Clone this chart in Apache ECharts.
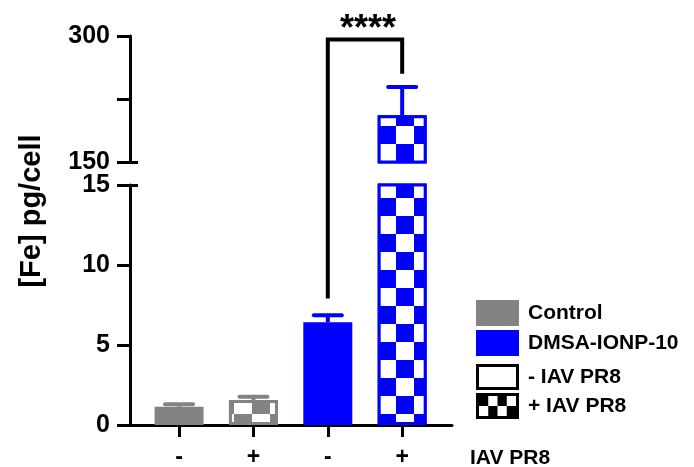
<!DOCTYPE html>
<html><head><meta charset="utf-8">
<script src="https://cdn.jsdelivr.net/npm/echarts@6/dist/echarts.min.js"></script>
<style>html,body{margin:0;padding:0;background:#fff}#c{width:694px;height:467px}</style>
</head><body><div id="c"></div>
<script>
// ---- data ----
const xLabels = ['-', '+', '-', '+'];
const groupOf = ['Control', 'Control', 'DMSA-IONP-10', 'DMSA-IONP-10'];
const infected = [false, true, false, true];
const meanValues = [1.14, 1.56, 6.42, 205.6];
const errorValues = [0.15, 0.21, 0.44, 33.7];
const lowerTicks = [0, 5, 10, 15];
const upperTickLabels = [150, 300];
const legendLabels = ['Control', 'DMSA-IONP-10', '- IAV PR8', '+ IAV PR8'];
const xAxisTitle = 'IAV PR8';
const yAxisTitle = '[Fe] pg/cell';
const sigLabel = '****';
const sigPair = [2, 3];
const sigHeight = 295.7;   // bracket top (upper segment scale)
const sigRightEnd = 255;   // right leg end (upper segment scale)
const sigLeftEnd = 7.9;    // left leg end (lower segment scale)

// ---- styles ----
const FONT = '"Liberation Sans", Arial, Helvetica, sans-serif';
const groupColor = { 'Control': '#838383', 'DMSA-IONP-10': '#0000ff' };
const lowerRange = [0, 15], upperRange = [150, 300];
const xRange = [-0.66, 3.67];
const CELL = 18;
const checker = (c) => ({
  symbol: 'rect', symbolSize: 1, color: c,
  dashArrayX: [[CELL, CELL], [0, CELL, CELL, 0]], dashArrayY: [CELL, 0], rotation: 0
});

const chart = echarts.init(document.getElementById('c'), null, { renderer: 'canvas' });

function barItem(i) {
  const col = groupColor[groupOf[i]];
  return {
    value: [i, meanValues[i]],
    itemStyle: {
      color: col, borderColor: col, borderWidth: 3,
      decal: infected[i] ? checker('#ffffff') : null
    }
  };
}
const idx = meanValues.map((_, i) => i);
const lowerBars = idx.map(barItem);
const upperBars = idx.map(i => meanValues[i] > upperRange[0] ? barItem(i) : { value: [i, '-'] });
const lowerErr = idx.filter(i => meanValues[i] + errorValues[i] <= lowerRange[1])
  .map(i => [i, meanValues[i], meanValues[i] + errorValues[i], i]);
const upperErr = idx.filter(i => meanValues[i] > upperRange[0])
  .map(i => [i, meanValues[i], meanValues[i] + errorValues[i], i]);

function renderErr(params, api) {
  const x = api.value(0);
  const p0 = api.coord([x, api.value(1)]);
  const p1 = api.coord([x, api.value(2)]);
  const col = groupColor[groupOf[api.value(3)]];
  const hw = 14;
  return {
    type: 'group',
    children: [
      { type: 'line', shape: { x1: p0[0], y1: p0[1], x2: p1[0], y2: p1[1] }, style: { stroke: col, lineWidth: 4 } },
      { type: 'line', shape: { x1: p1[0] - hw, y1: p1[1], x2: p1[0] + hw, y2: p1[1] }, style: { stroke: col, lineWidth: 4, lineCap: 'round' } }
    ]
  };
}

const axisLine = { show: true, onZero: false, lineStyle: { color: '#000', width: 3 } };
const yLabel = { color: '#000', fontSize: 25, fontWeight: 'bold', fontFamily: FONT, margin: 20 };

chart.setOption({
  animation: false,
  backgroundColor: '#fff',
  grid: [
    { left: 130, right: 242, top: 185, height: 240, outerBoundsMode: 'none' },
    { left: 130, right: 242, top: 36, height: 126, outerBoundsMode: 'none' }
  ],
  xAxis: [
    {
      type: 'value', gridIndex: 0, min: xRange[0], max: xRange[1],
      axisLine: axisLine, splitLine: { show: false },
      axisTick: { show: true, customValues: idx, length: 12, lineStyle: { color: '#000', width: 3 } },
      axisLabel: {
        customValues: idx, formatter: v => xLabels[Math.round(v)],
        color: '#000', fontSize: 23, fontWeight: 'bold', fontFamily: FONT, margin: 21
      }
    },
    { type: 'value', gridIndex: 1, min: xRange[0], max: xRange[1], show: false, splitLine: { show: false } }
  ],
  yAxis: [
    {
      type: 'value', gridIndex: 0, position: 'left', min: lowerRange[0], max: lowerRange[1], interval: 5,
      axisLine: axisLine, splitLine: { show: false },
      axisTick: { show: true, length: 13, lineStyle: { color: '#000', width: 3 } },
      axisLabel: Object.assign({ customValues: lowerTicks }, yLabel)
    },
    {
      type: 'value', gridIndex: 1, position: 'left', min: upperRange[0], max: upperRange[1], interval: 75,
      axisLine: axisLine, splitLine: { show: false },
      axisTick: { show: true, length: 13, lineStyle: { color: '#000', width: 3 } },
      axisLabel: Object.assign({ customValues: upperTickLabels }, yLabel)
    },
    {
      type: 'value', gridIndex: 0, position: 'left', offset: 0, min: lowerRange[0], max: lowerRange[1],
      axisLine: { show: false, onZero: false }, splitLine: { show: false }, axisLabel: { show: false },
      axisTick: { show: true, inside: true, customValues: [lowerRange[1]], length: 8, lineStyle: { color: '#000', width: 3 } }
    },
    {
      type: 'value', gridIndex: 1, position: 'left', offset: 0, min: upperRange[0], max: upperRange[1],
      axisLine: { show: false, onZero: false }, splitLine: { show: false }, axisLabel: { show: false },
      axisTick: { show: true, inside: true, customValues: [upperRange[0]], length: 8, lineStyle: { color: '#000', width: 3 } }
    }
  ],
  series: [
    { type: 'bar', xAxisIndex: 0, yAxisIndex: 0, barWidth: 49, data: lowerBars, clip: true, z: 2 },
    { type: 'bar', xAxisIndex: 1, yAxisIndex: 1, barWidth: 49, data: upperBars, clip: true, z: 2 },
    { type: 'custom', xAxisIndex: 0, yAxisIndex: 0, renderItem: renderErr, data: lowerErr, encode: { x: 0, y: [1, 2] }, z: 3 },
    { type: 'custom', xAxisIndex: 1, yAxisIndex: 1, renderItem: renderErr, data: upperErr, encode: { x: 0, y: [1, 2] }, z: 3 }
  ]
});

// ---- annotations & legend (positions derived from the chart's scales) ----
const pTL = chart.convertToPixel({ xAxisIndex: 1, yAxisIndex: 1 }, [sigPair[0], sigHeight]);
const pTR = chart.convertToPixel({ xAxisIndex: 1, yAxisIndex: 1 }, [sigPair[1], sigHeight]);
const pRE = chart.convertToPixel({ xAxisIndex: 1, yAxisIndex: 1 }, [sigPair[1], sigRightEnd]);
const pLE = chart.convertToPixel({ xAxisIndex: 0, yAxisIndex: 0 }, [sigPair[0], sigLeftEnd]);

const graphics = [
  { type: 'polyline', z: 10, shape: { points: [pLE, [pLE[0], pTL[1]], pTR, pRE] },
    style: { stroke: '#000', lineWidth: 4, fill: null, lineJoin: 'miter' } },
  { type: 'text', z: 10, x: (pTL[0] + pTR[0]) / 2 + 3, y: pTL[1] - 10,
    style: { text: sigLabel, fill: '#000', font: 'bold 36px ' + FONT, align: 'center', verticalAlign: 'middle' } },
  { type: 'text', x: 32, y: 211, rotation: Math.PI / 2,
    style: { text: yAxisTitle, fill: '#000', font: 'bold 29px ' + FONT, align: 'center', verticalAlign: 'middle' } },
  { type: 'text', x: 470, y: 458,
    style: { text: xAxisTitle, fill: '#000', font: 'bold 21px ' + FONT, align: 'left', verticalAlign: 'middle' } }
];

// legend
const legTop = [300, 330, 364, 393];
const legX = 476, legW = 43, legH = 26;
legendLabels.forEach((name, k) => {
  const y = legTop[k];
  if (k < 2) {
    graphics.push({ type: 'rect', shape: { x: legX, y: y, width: legW, height: legH }, style: { fill: groupColor[name] } });
  } else if (k === 2) {
    graphics.push({ type: 'rect', shape: { x: legX + 1.5, y: y + 1.5, width: legW - 3, height: legH - 3 }, style: { fill: '#fff', stroke: '#000', lineWidth: 3 } });
  } else {
    graphics.push({ type: 'rect', shape: { x: legX, y: y, width: legW, height: legH }, style: { fill: '#000' } });
    const cw = (legW - 6) / 4, ch = (legH - 6) / 2;
    for (let r = 0; r < 2; r++) for (let c = 0; c < 4; c++) {
      if ((r + c) % 2 === 1) graphics.push({ type: 'rect', shape: { x: legX + 3 + c * cw, y: y + 3 + r * ch, width: cw, height: ch }, style: { fill: '#fff' } });
    }
  }
  graphics.push({ type: 'text', x: 528, y: y + legH / 2,
    style: { text: name, fill: '#000', font: 'bold 21px ' + FONT, align: 'left', verticalAlign: 'middle' } });
});

chart.setOption({ graphic: graphics });
</script>
</body></html>
